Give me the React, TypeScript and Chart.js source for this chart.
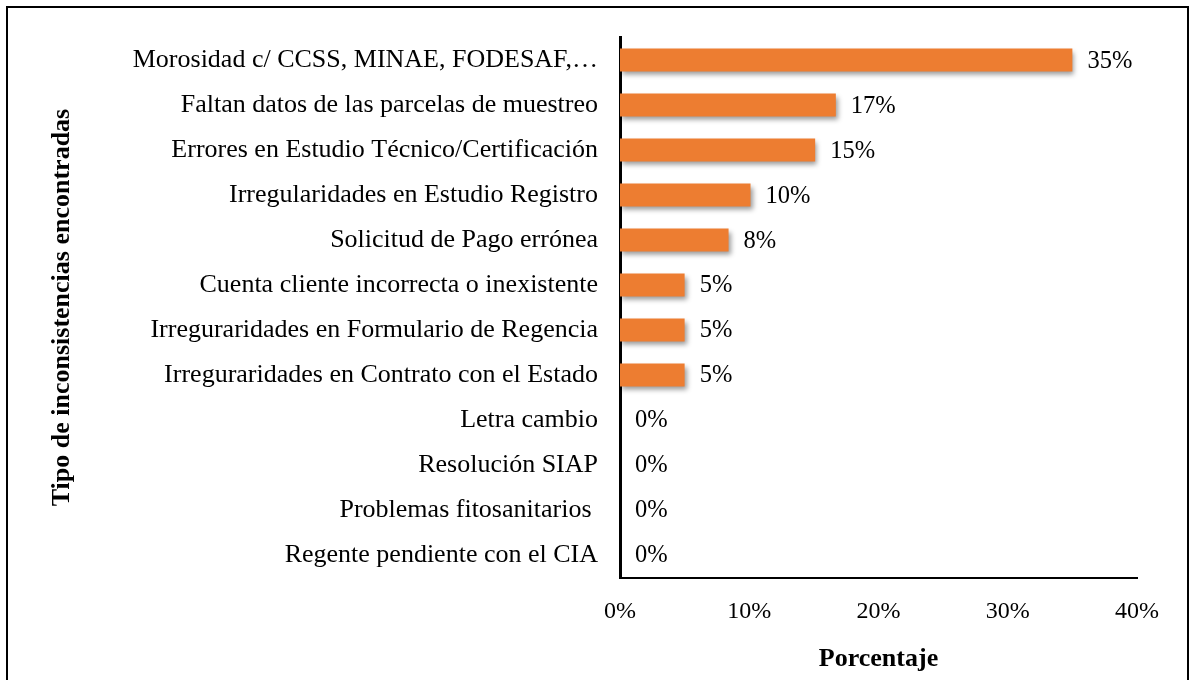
import React, { useEffect, useRef } from "react";
import { Chart, registerables } from "chart.js";

Chart.register(...registerables);

const categories = [
  "Morosidad c/ CCSS, MINAE, FODESAF,…",
  "Faltan datos de las parcelas de muestreo",
  "Errores en Estudio Técnico/Certificación",
  "Irregularidades en Estudio Registro",
  "Solicitud de Pago errónea",
  "Cuenta cliente incorrecta o inexistente",
  "Irreguraridades en Formulario de Regencia",
  "Irreguraridades en Contrato con el Estado",
  "Letra cambio",
  "Resolución SIAP",
  "Problemas fitosanitarios ",
  "Regente pendiente con el CIA",
];

const percentages = [35, 16.7, 15.1, 10.1, 8.4, 5, 5, 5, 0, 0, 0, 0];

const xTicks = [0, 10, 20, 30, 40];

const xTitle = "Porcentaje";
const yTitle = "Tipo de inconsistencias encontradas";

const FONT = "'Liberation Serif', 'Times New Roman', serif";
const BAR_COLOR = "#ED7D31";

const shadowPlugin = {
  id: "barShadow",
  beforeDatasetsDraw(chart: any) {
    const ctx = chart.ctx;
    ctx.save();
    ctx.shadowColor = "rgba(0,0,0,0.4)";
    ctx.shadowBlur = 5;
    ctx.shadowOffsetX = 2;
    ctx.shadowOffsetY = 3;
  },
  afterDatasetsDraw(chart: any) {
    chart.ctx.restore();
  },
};

const valueLabelPlugin = {
  id: "valueLabels",
  afterDatasetsDraw(chart: any) {
    const ctx = chart.ctx;
    const meta = chart.getDatasetMeta(0);
    const data = chart.data.datasets[0].data as number[];
    ctx.save();
    ctx.font = `24.5px ${FONT}`;
    ctx.fillStyle = "#000";
    ctx.textAlign = "left";
    ctx.textBaseline = "middle";
    meta.data.forEach((bar: any, i: number) => {
      const v = data[i];
      ctx.fillText(`${Math.round(v)}%`, bar.x + 15, bar.y + 1);
    });
    ctx.restore();
  },
};

export default function App() {
  const canvasRef = useRef<HTMLCanvasElement | null>(null);

  useEffect(() => {
    const canvas = canvasRef.current;
    if (!canvas) return;
    const chart = new Chart(canvas, {
      type: "bar",
      data: {
        labels: categories,
        datasets: [
          {
            data: percentages,
            backgroundColor: BAR_COLOR,
            borderWidth: 0,
            categoryPercentage: 1,
            barPercentage: 0.51,
          },
        ],
      },
      options: {
        indexAxis: "y",
        responsive: false,
        animation: false,
        devicePixelRatio: 1,
        layout: { padding: { left: 40, right: 52, top: 34.5, bottom: 0 } },
        plugins: {
          legend: { display: false },
          tooltip: { enabled: false },
        },
        scales: {
          x: {
            min: 0,
            max: 40,
            afterBuildTicks(scale: any) {
              scale.ticks = xTicks.map((v) => ({ value: v }));
            },
            afterFit(scale: any) {
              scale.height = 680 - 577.5;
            },
            grid: { display: false, drawTicks: false },
            border: { display: true, color: "#000", width: 2 },
            ticks: {
              color: "#000",
              font: { family: FONT, size: 24 },
              padding: 20,
              maxRotation: 0,
              callback: (v: any) => `${v}%`,
            },
            title: {
              display: true,
              text: xTitle,
              color: "#000",
              font: { family: FONT, size: 26, weight: "bold" },
              padding: { top: 0, bottom: 5 },
            },
          },
          y: {
            afterFit(scale: any) {
              scale.width = 620 - 40;
            },
            grid: { display: false, drawTicks: false },
            border: { display: true, color: "#000", width: 3 },
            ticks: {
              color: "#000",
              font: { family: FONT, size: 26 },
              padding: 22,
              autoSkip: false,
            },
            title: {
              display: true,
              text: yTitle,
              color: "#000",
              font: { family: FONT, size: 26, weight: "bold" },
              padding: { top: 7, bottom: 0 },
            },
          },
        },
      },
      plugins: [shadowPlugin, valueLabelPlugin],
    });
    return () => chart.destroy();
  }, []);

  return (
    <div>
      <canvas
        ref={canvasRef}
        width={1189}
        height={680}
        style={{ position: "fixed", left: 0, top: 0, width: 1189, height: 680, display: "block" }}
      />
      <div
        style={{
          position: "fixed",
          left: 6,
          top: 6,
          width: 1183,
          height: 720,
          border: "2px solid #000",
          boxSizing: "border-box",
          pointerEvents: "none",
        }}
      />
    </div>
  );
}
